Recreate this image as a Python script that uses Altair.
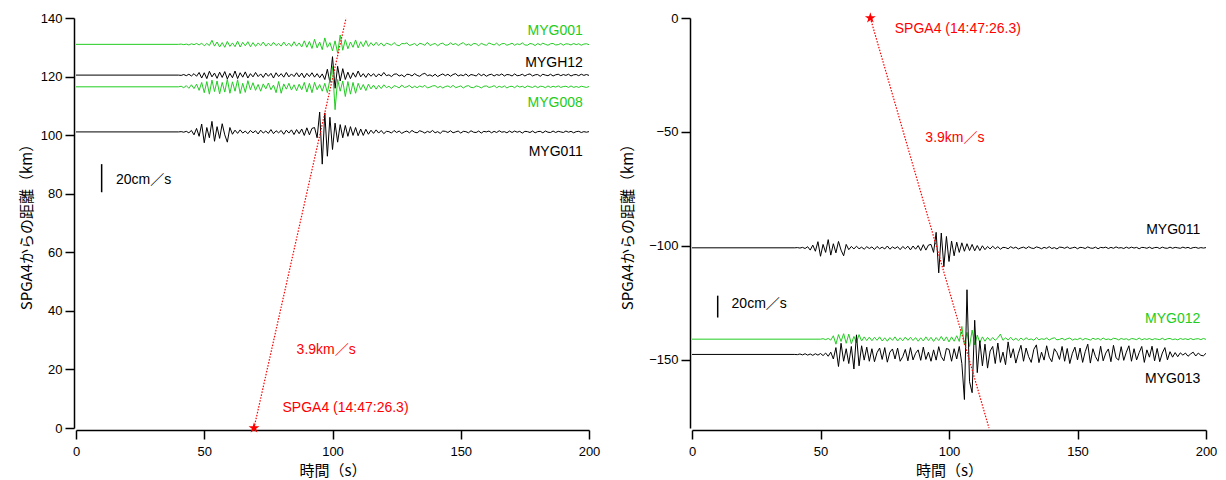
import altair as alt
import pandas as pd

# ---------------- data ----------------
sample_step = 1.0          # s between amplitude readings
origin_time = 69.4         # SPGA4 (14:47:26.3) on the time axis [s]
velocity = 3.9             # km/s
scale_bar_km = 9.6         # length of the 20 cm/s scale bar in distance units

# amplitudes (km, relative to the station baseline), one reading per second from the onset time
myg001_start = 40
myg001_amp = [0.0, 0.1, -0.1, 0.1, -0.2, 0.2, -0.1, 0.3, -0.2, 0.4,
              -0.5, 0.3, -0.4, 1.4, -0.6, 0.8, -0.9, 0.6, -1.0, 1.0,
              -0.7, 0.5, -0.8, 1.1, -0.9, 0.7, -0.5, 0.9, -0.8, 0.6,
              -0.7, 0.5, -0.4, 0.8, -0.6, 0.4, -0.5, 0.7, -0.4, 0.3,
              -0.6, 0.8, -0.5, 0.4, -0.7, 0.9, -0.6, 0.5, -0.9, 1.2,
              -1.0, 1.0, -1.4, 1.7, -1.2, 0.8, -1.8, 2.2, -1.0, 0.6,
              -2.2, 1.2, -3.0, 3.2, -2.0, 1.6, -1.5, 0.8, -1.0, 1.5,
              -1.2, 0.9, -0.8, 1.3, -0.7, 0.6, -0.5, 0.7, -0.4, 0.5,
              -0.6, 0.4, 0.1, -0.3, 0.6, -0.2, -0.5, 0.3, 0.2, 0.5,
              -0.4, -0.1, 0.3, -0.5, 0.4, 0.1, -0.3, 0.7, -0.4, 0.0,
              0.3, -0.5, 0.2, 0.4, -0.3, -0.2, 0.5, -0.1, 0.3, -0.4,
              0.2, 0.6, -0.3, 0.1, -0.4, 0.3, 0.2, -0.5, 0.4, -0.1,
              -0.3, 0.5, 0.1, -0.2, 0.4, -0.4, 0.2, 0.3, -0.3, 0.0,
              0.4, -0.3, 0.2, -0.1, 0.5, -0.2, -0.3, 0.3, 0.1, -0.4,
              0.3, -0.2, 0.4, 0.0, -0.3, 0.2, 0.3, -0.2, -0.1, 0.3,
              -0.3, 0.2, 0.1, -0.2, 0.3, -0.1, 0.2, -0.3, 0.1, 0.2, -0.1]

mygh12_start = 40
mygh12_amp = [0.0, -0.1, 0.2, -0.2, 0.3, -0.3, 0.5, -0.4, 0.9, -1.0,
              0.8, -1.2, 1.3, -0.6, 0.7, -1.1, 1.0, -0.8, 1.2, -1.3,
              0.6, -0.9, 1.4, -1.2, 0.8, -0.7, 1.1, -1.0, 0.5, -0.6,
              0.9, -0.5, 0.4, -0.8, 0.7, -0.4, 0.6, -1.0, 0.8, -0.5,
              0.5, -0.7, 0.9, -0.6, 0.4, -0.5, 0.8, -0.6, 0.7, -0.9,
              0.6, -0.5, 0.8, -0.7, 0.5, -0.9, 0.4, -1.5, 2.0, -2.5,
              6.3, -4.5, 3.0, -2.0, 2.2, -1.5, 1.0, -1.2, 0.8, -0.7,
              1.4, -0.6, 0.5, -0.8, 0.6, -0.4, 0.5, -0.6, 0.4, -0.3,
              0.9, -0.2, 0.1, -0.5, 0.3, 0.4, -0.3, 0.1, -0.6, 0.3,
              0.2, -0.3, 0.5, -0.1, -0.4, 0.3, 0.6, -0.2, 0.1, -0.4,
              0.3, -0.5, 0.0, 0.4, -0.2, 0.3, -0.4, 0.2, 0.5, -0.3,
              0.1, -0.2, 0.4, -0.4, 0.2, 0.0, -0.3, 0.5, -0.2, 0.3,
              -0.4, 0.1, 0.3, -0.3, 0.2, -0.1, 0.4, -0.3, 0.2, 0.1,
              -0.3, 0.4, -0.2, -0.1, 0.3, -0.3, 0.2, 0.4, -0.3, 0.1,
              0.2, -0.4, 0.3, 0.0, -0.2, 0.3, -0.3, 0.1, 0.3, -0.2,
              0.2, -0.1, 0.3, -0.3, 0.1, 0.2, -0.2, 0.3, -0.1, 0.2, -0.1]

myg008_start = 40
myg008_amp = [0.0, 0.2, -0.3, 0.4, -0.5, 0.7, -0.6, 0.9, -1.2, 1.5,
              -2.0, 1.8, -2.5, 2.3, -1.6, 2.0, -2.4, 1.5, -1.8, 2.6,
              -2.2, 1.7, -1.5, 2.4, -2.3, 1.2, -1.9, 2.1, -1.0, 1.4,
              -1.2, 0.8, -1.5, 1.0, -0.7, 1.3, -1.0, 0.6, -2.0, 1.8,
              -2.2, 1.0, -0.8, 1.2, -1.1, 0.7, -1.3, 0.9, -1.0, 1.5,
              -1.8, 1.2, -2.0, 1.5, -1.0, 0.8, -1.5, 1.2, -2.0, 2.5,
              6.9, -7.8, 2.5, -1.5, 2.0, -3.3, 1.8, -2.5, 1.5, -2.2,
              1.2, -1.0, 0.8, -1.3, 0.9, -0.7, 0.6, -0.8, 0.5, -0.6,
              0.7, -0.3, 0.2, -0.6, 0.4, 0.1, -0.4, 0.6, -0.2, 0.0,
              0.5, -0.4, 0.2, -0.3, 0.3, -0.1, 0.5, -0.4, -0.1, 0.3,
              0.4, -0.3, 0.2, -0.4, 0.1, 0.3, -0.2, 0.5, -0.3, 0.0,
              0.3, -0.4, 0.2, 0.4, -0.2, -0.3, 0.3, 0.1, -0.4, 0.2,
              0.3, -0.2, 0.0, 0.4, -0.3, 0.2, -0.2, 0.3, -0.4, 0.1,
              0.2, -0.3, 0.4, -0.1, 0.2, -0.3, 0.3, 0.0, -0.2, 0.3,
              -0.3, 0.2, 0.1, -0.3, 0.3, -0.2, 0.2, -0.1, 0.3, -0.2,
              0.1, 0.2, -0.2, 0.3, -0.2, 0.1, -0.2, 0.2, 0.0, -0.2, 0.1]

myg011_start = 40
myg011_amp = [0.0, 0.1, -0.1, 0.2, -0.3, 0.5, -1.0, 1.2, -1.5, 2.7,
              -3.7, 1.5, -2.0, 3.6, -3.2, 1.8, -2.2, 2.8, -1.0, -3.5,
              1.5, -0.8, 0.6, -0.5, 0.7, -0.4, 0.3, -0.6, 0.5, -0.3,
              0.4, -0.7, 0.6, -0.4, 0.3, -0.5, 0.8, -0.6, 0.4, -0.3,
              0.5, -0.8, 0.6, -0.4, 0.7, -0.9, 0.8, -0.6, 1.0, -1.2,
              1.4, -1.0, 1.2, 1.5, -2.0, 6.8, -11.0, 6.5, -8.3, 5.0,
              -6.0, 3.0, -3.5, 2.5, -2.0, 2.2, -1.5, 1.8, -1.2, 1.5,
              -1.3, 1.0, -1.2, 0.9, -0.8, 0.6, -0.5, 0.7, -0.4, 0.5,
              -0.6, 0.2, 0.1, -0.4, 0.5, -0.2, 0.3, -0.5, 0.0, 0.3,
              -0.3, 0.5, -0.1, -0.3, 0.4, 0.1, -0.4, 0.2, -0.2, 0.5,
              -0.3, 0.1, -0.5, 0.3, 0.2, -0.2, 0.4, -0.3, 0.0, 0.3,
              -0.4, 0.2, 0.1, -0.3, 0.4, -0.1, -0.2, 0.3, -0.4, 0.2,
              0.0, 0.3, -0.3, 0.2, -0.2, 0.4, -0.1, 0.1, -0.3, 0.3,
              -0.2, 0.3, -0.1, 0.2, -0.4, 0.2, 0.1, -0.2, 0.3, -0.3,
              0.1, 0.2, -0.3, 0.3, -0.1, -0.2, 0.3, -0.2, 0.2, 0.0,
              -0.2, 0.3, -0.1, 0.2, -0.3, 0.1, 0.2, -0.2, 0.1, -0.1, 0.1]

myg012_start = 50
myg012_amp = [0.0, 0.2, -0.2, 0.3, -0.4, 1.5, -2.2, 2.0, -1.0, 2.4,
              -1.8, 2.2, -2.0, 1.2, -1.5, 2.0, -0.8, 1.0, -0.6, 0.9,
              -0.7, 0.8, -0.5, 1.0, -0.8, 0.6, -0.9, 0.7, -0.5, 1.0,
              -0.8, 0.6, -0.7, 0.9, -0.5, 0.8, -0.6, 0.7, -0.9, 0.6,
              -0.8, 1.0, -0.6, 0.8, -1.0, 0.7, -0.6, 1.2, -0.8, 1.0,
              -1.2, 1.0, -0.9, 1.5, -1.0, 5.6, -2.5, 3.0, -3.2, 4.0,
              -2.5, 1.8, -1.5, 1.0, -0.9, 0.8, -0.6, 0.7, -0.5, 0.6,
              2.2, -0.5, 0.6, -0.4, 0.8, -0.5, 0.4, -0.6, 0.5, -0.4,
              0.6, -0.2, 0.1, -0.5, 0.7, -0.3, 0.2, -0.1, 0.5, -0.4,
              0.3, 0.6, -0.3, -0.1, 0.4, -0.3, 0.2, 0.5, -0.4, 0.1,
              -0.2, 0.5, -0.3, 0.3, 0.0, -0.4, 0.4, -0.1, 0.3, -0.3,
              0.5, -0.2, 0.1, -0.3, 0.4, 0.2, -0.3, 0.3, -0.1, 0.2,
              -0.4, 0.3, 0.1, -0.2, 0.5, -0.3, 0.2, -0.1, 0.3, -0.3,
              0.2, 0.0, -0.2, 0.4, -0.3, 0.2, 0.3, -0.2, 0.1, -0.3,
              0.3, -0.1, 0.2, -0.2, 0.3, -0.2, 0.1, 0.2, -0.2, 0.3, -0.1]

myg013_start = 40
myg013_amp = [0.0, -0.1, 0.2, -0.2, 0.3, -0.3, 0.2, -0.4, 0.3, -0.3,
              0.4, -0.5, 0.6, -0.8, 1.0, -2.0, 3.0, -5.3, 4.9, -3.0,
              2.5, -4.0, 3.5, -6.4, 8.6, -5.0, 3.8, -2.5, 3.2, -3.0,
              2.5, -3.2, 0.8, 2.8, -2.2, 3.0, -3.4, 1.0, 2.4, -2.0,
              2.8, -3.0, -1.0, 2.2, -2.8, 3.0, -2.4, 0.5, 2.0, -2.6,
              3.2, -2.2, 1.0, -3.0, 2.0, -2.5, 3.4, -1.0, -2.8, 2.6,
              2.2, -3.0, 2.5, -2.0, 3.5, -4.0, -19.8, 28.4, -12.0, -16.8,
              15.0, -8.0, 6.0, -5.0, 4.5, -6.0, 1.5, 3.5, -4.0, 5.0,
              -3.5, 1.0, -4.5, 5.5, -1.5, 2.5, -3.8, 0.5, 4.0, -3.0,
              2.8, -1.0, -3.5, 2.2, 4.2, -3.6, 1.0, -2.5, 3.8, -1.2,
              -3.2, 2.5, 0.8, -2.2, 3.5, -3.0, 2.6, -4.0, 0.5, 3.2,
              -2.4, 2.8, -3.5, 1.2, 4.5, -3.8, 2.5, -1.0, -3.0, 3.6,
              -2.8, 0.6, 2.4, -3.2, 4.0, -1.5, -2.5, 3.4, -2.6, 1.0,
              3.8, -3.0, 2.5, -2.4, 0.8, 3.5, -3.5, 2.0, -1.2, 3.6,
              -2.8, 2.6, -3.2, 0.6, 3.0, -2.4, 1.2, -1.2, 0.8, -1.0,
              0.7, -0.3, 0.6, -0.8, 0.2, 1.0, -0.7, 0.6, -0.4, -0.6, 0.5]

# station baselines: distance from SPGA4 (km)
left_stations = ["MYG001", "MYGH12", "MYG008", "MYG011"]
left_baselines = [131.0, 120.5, 116.5, 101.1]
right_stations = ["MYG011", "MYG012", "MYG013"]
right_baselines = [-100.9, -141.0, -147.7]

GREEN = "#22cc22"
station_color = {"MYG001": GREEN, "MYGH12": "#000000", "MYG008": GREEN,
                 "MYG011": "#000000", "MYG012": GREEN, "MYG013": "#000000"}
station_wave = {"MYG001": (myg001_start, myg001_amp), "MYGH12": (mygh12_start, mygh12_amp),
                "MYG008": (myg008_start, myg008_amp), "MYG011": (myg011_start, myg011_amp),
                "MYG012": (myg012_start, myg012_amp), "MYG013": (myg013_start, myg013_amp)}


def trace_table(stations, baselines):
    rows = []
    for name, base in zip(stations, baselines):
        start, amps = station_wave[name]
        rows.append({"station": name, "t": 0.0, "d": base, "color": station_color[name]})
        for i, a in enumerate(amps):
            rows.append({"station": name, "t": start + i * sample_step,
                         "d": base + a, "color": station_color[name]})
    return pd.DataFrame(rows)


FONT = "Liberation Sans, Noto Sans CJK JP"
JFONT = "Noto Sans CJK JP"
STAR = ("M0,-1L0.2245,-0.309L0.951,-0.309L0.363,0.118L0.588,0.809L0,0.382"
        "L-0.588,0.809L-0.363,0.118L-0.951,-0.309L-0.2245,-0.309Z")


def panel(stations, baselines, ydom, yticks, yend, width, labels, misc, ytitle_pad):
    xs = alt.X("t:Q", scale=alt.Scale(domain=[0, 200], nice=False),
               axis=alt.Axis(values=[0, 50, 100, 150, 200], title="時間（s）", labelFlush=False,
                             labelPadding=6, titlePadding=5))
    ys = alt.Y("d:Q", scale=alt.Scale(domain=ydom, nice=False, zero=False),
               axis=alt.Axis(values=yticks, title="SPGA4からの距離（km）", titlePadding=ytitle_pad))

    traces = alt.Chart(trace_table(stations, baselines)).mark_line(strokeWidth=1).encode(
        x=xs, y=ys, detail="station:N", color=alt.Color("color:N", scale=None))

    travel = pd.DataFrame({"t": [origin_time, origin_time + abs(yend) / velocity], "d": [0.0, yend]})
    tline = alt.Chart(travel).mark_line(color="#ff0000", strokeWidth=1.2,
                                        strokeDash=[1.5, 1.5]).encode(x="t:Q", y="d:Q")
    star = alt.Chart(pd.DataFrame({"t": [origin_time], "d": [0.0]})).mark_point(
        shape=STAR, filled=True, color="#ff0000", size=130, opacity=1).encode(x="t:Q", y="d:Q")

    sb = pd.DataFrame({"t": [misc["bar_t"]], "d": [misc["bar_d"]], "d2": [misc["bar_d"] + scale_bar_km]})
    bar = alt.Chart(sb).mark_rule(color="#000000", strokeWidth=1.5).encode(x="t:Q", y="d:Q", y2="d2:Q")

    lab = pd.DataFrame(labels)
    names = alt.Chart(lab).mark_text(align="right", baseline="middle", font=FONT, fontSize=14).encode(
        x="t:Q", y="d:Q", text="text:N", color=alt.Color("color:N", scale=None))

    ann = pd.DataFrame(misc["texts"])
    notes = alt.Chart(ann).mark_text(align="left", baseline="middle", font=FONT, fontSize=14).encode(
        x="t:Q", y="d:Q", text="text:N", color=alt.Color("color:N", scale=None))

    return alt.layer(traces, tline, star, bar, names, notes).properties(width=width, height=410)


left = panel(
    left_stations, left_baselines, [0, 140], [0, 20, 40, 60, 80, 100, 120, 140], 140, 513,
    {"t": [197.6, 197.6, 197.6, 197.6], "d": [135.6, 124.7, 111.1, 94.4],
     "text": ["MYG001", "MYGH12", "MYG008", "MYG011"],
     "color": [GREEN, "#000000", GREEN, "#000000"]},
    {"bar_t": 10, "bar_d": 80.5,
     "texts": {"t": [15.6, 86.0, 80.5], "d": [84.8, 26.8, 6.8],
               "text": ["20cm／s", "3.9km／s", "SPGA4 (14:47:26.3)"],
               "color": ["#000000", "#ff0000", "#ff0000"]}},
    6)

right = panel(
    right_stations, right_baselines, [-180, 0], [0, -50, -100, -150], -180, 514,
    {"t": [197.8, 197.8, 197.8], "d": [-93.0, -132.2, -158.5],
     "text": ["MYG011", "MYG012", "MYG013"],
     "color": ["#000000", GREEN, "#000000"]},
    {"bar_t": 10, "bar_d": -131.5,
     "texts": {"t": [15.4, 90.8, 78.9], "d": [-125.4, -52.8, -5.0],
               "text": ["20cm／s", "3.9km／s", "SPGA4 (14:47:26.3)"],
               "color": ["#000000", "#ff0000", "#ff0000"]}},
    13.5)

chart = alt.hconcat(left, right, spacing=20).properties(
    padding={"left": 11, "top": 4, "right": 0, "bottom": 0},
    background="#ffffff"
).configure_view(stroke=None).configure_axis(
    grid=False, domainColor="#000000", domainWidth=1.5, tickColor="#000000", tickWidth=1.5,
    tickSize=9, offset=2, labelFont="Liberation Sans", labelFontSize=13, labelColor="#000000",
    labelPadding=3, titleFont=JFONT, titleFontSize=15, titleFontWeight="normal", titleColor="#000000"
)

chart.save("out.html", embed_options={"renderer": "svg", "actions": False})
